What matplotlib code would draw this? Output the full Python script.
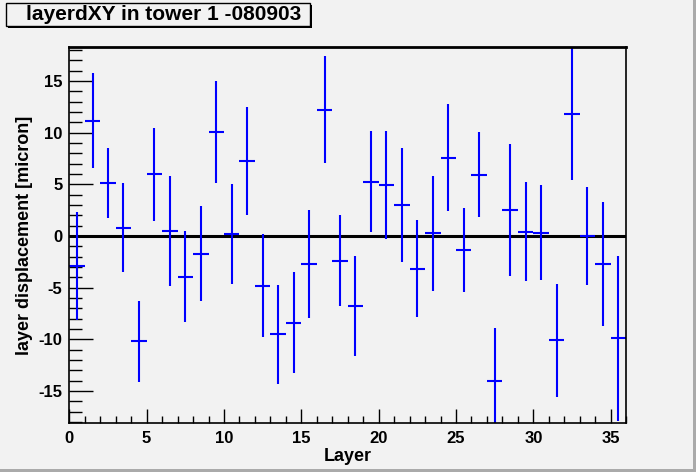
import numpy as np
import matplotlib.pyplot as plt
from matplotlib.patches import Rectangle
from matplotlib.ticker import MultipleLocator

plt.rcParams['font.family'] = ['Liberation Sans', 'DejaVu Sans']
plt.rcParams['font.weight'] = 'bold'
plt.rcParams['axes.unicode_minus'] = False

# layer index (bin centres) and displacement values
layer = np.arange(36) + 0.5
disp = [-2.9, 11.15, 5.15, 0.8, -10.2, 6.0, 0.5, -3.95, -1.7, 10.05,
        0.2, 7.25, -4.8, -9.5, -8.4, -2.7, 12.25, -2.4, -6.8, 5.25,
        4.95, 3.0, -3.15, 0.25, 7.6, -1.35, 5.95, -14.0, 2.55, 0.42,
        0.32, -10.1, 11.85, 0.0, -2.7, -9.9]
err = [5.2, 4.6, 3.4, 4.3, 3.95, 4.5, 5.3, 4.4, 4.6, 4.95,
       4.8, 5.2, 5.0, 4.8, 4.9, 5.2, 5.2, 4.4, 4.85, 4.9,
       5.2, 5.5, 4.7, 5.6, 5.15, 4.05, 4.1, 5.05, 6.4, 4.8,
       4.6, 5.45, 6.4, 4.75, 6.0, 8.0]

bg = '#f2f2f2'
fig = plt.figure(figsize=(6.96, 4.72), dpi=100, facecolor=bg)
ax = fig.add_axes([0.0996, 0.1038, 0.8, 0.7966], facecolor=bg)

ax.axhline(0, color='black', lw=2.2, zorder=1)
ax.errorbar(layer, disp, yerr=err, xerr=0.5, fmt='none', ecolor='#0000ff',
            elinewidth=1.5, capsize=0, zorder=2, clip_on=True)

ax.set_xlim(0, 36)
ax.set_ylim(-18.1, 18.3)
ax.xaxis.set_major_locator(MultipleLocator(5))
ax.xaxis.set_minor_locator(MultipleLocator(1))
ax.yaxis.set_major_locator(MultipleLocator(5))
ax.yaxis.set_minor_locator(MultipleLocator(1))
ax.tick_params(axis='x', which='major', direction='in', length=10, width=1,
               labelsize=12, pad=6, top=False)
ax.tick_params(axis='x', which='minor', direction='in', length=5, width=1, top=False)
ax.tick_params(axis='y', which='major', direction='in', length=17, width=1,
               labelsize=12, pad=5, right=False)
ax.tick_params(axis='y', which='minor', direction='in', length=9, width=1, right=False)
for lbl in ax.get_xticklabels() + ax.get_yticklabels():
    lbl.set_fontweight('bold')

for s in ['left', 'bottom', 'right']:
    ax.spines[s].set_linewidth(1.2)
ax.spines['top'].set_linewidth(2)

ax.set_xlabel('Layer', fontsize=13, fontweight='bold', labelpad=1)
ax.set_ylabel('layer displacement [micron]', fontsize=13, fontweight='bold', labelpad=4)

# title box with shadow, ROOT style
W, H = 696, 472
fig.patches.append(Rectangle((7.5 / W, 1 - 27.5 / H), 304 / W, 23 / H,
                             transform=fig.transFigure, facecolor='black',
                             edgecolor='none', zorder=5))
fig.patches.append(Rectangle((6 / W, 1 - 26 / H), 304 / W, 23 / H,
                             transform=fig.transFigure, facecolor=bg,
                             edgecolor='black', lw=1, zorder=6))
fig.text(164 / W, 1 - 14.5 / H, 'layerdXY in tower 1 -080903', ha='center',
         va='center', fontsize=15, fontweight='bold', zorder=7)

# canvas border
fig.patches.append(Rectangle((1 - 3 / W, 0), 3 / W, 1, transform=fig.transFigure,
                             facecolor='#aaaaaa', edgecolor='none', zorder=8))
fig.patches.append(Rectangle((0, 0), 1, 3 / H, transform=fig.transFigure,
                             facecolor='#aaaaaa', edgecolor='none', zorder=8))

fig.savefig('out.png', dpi=100, facecolor=bg)
